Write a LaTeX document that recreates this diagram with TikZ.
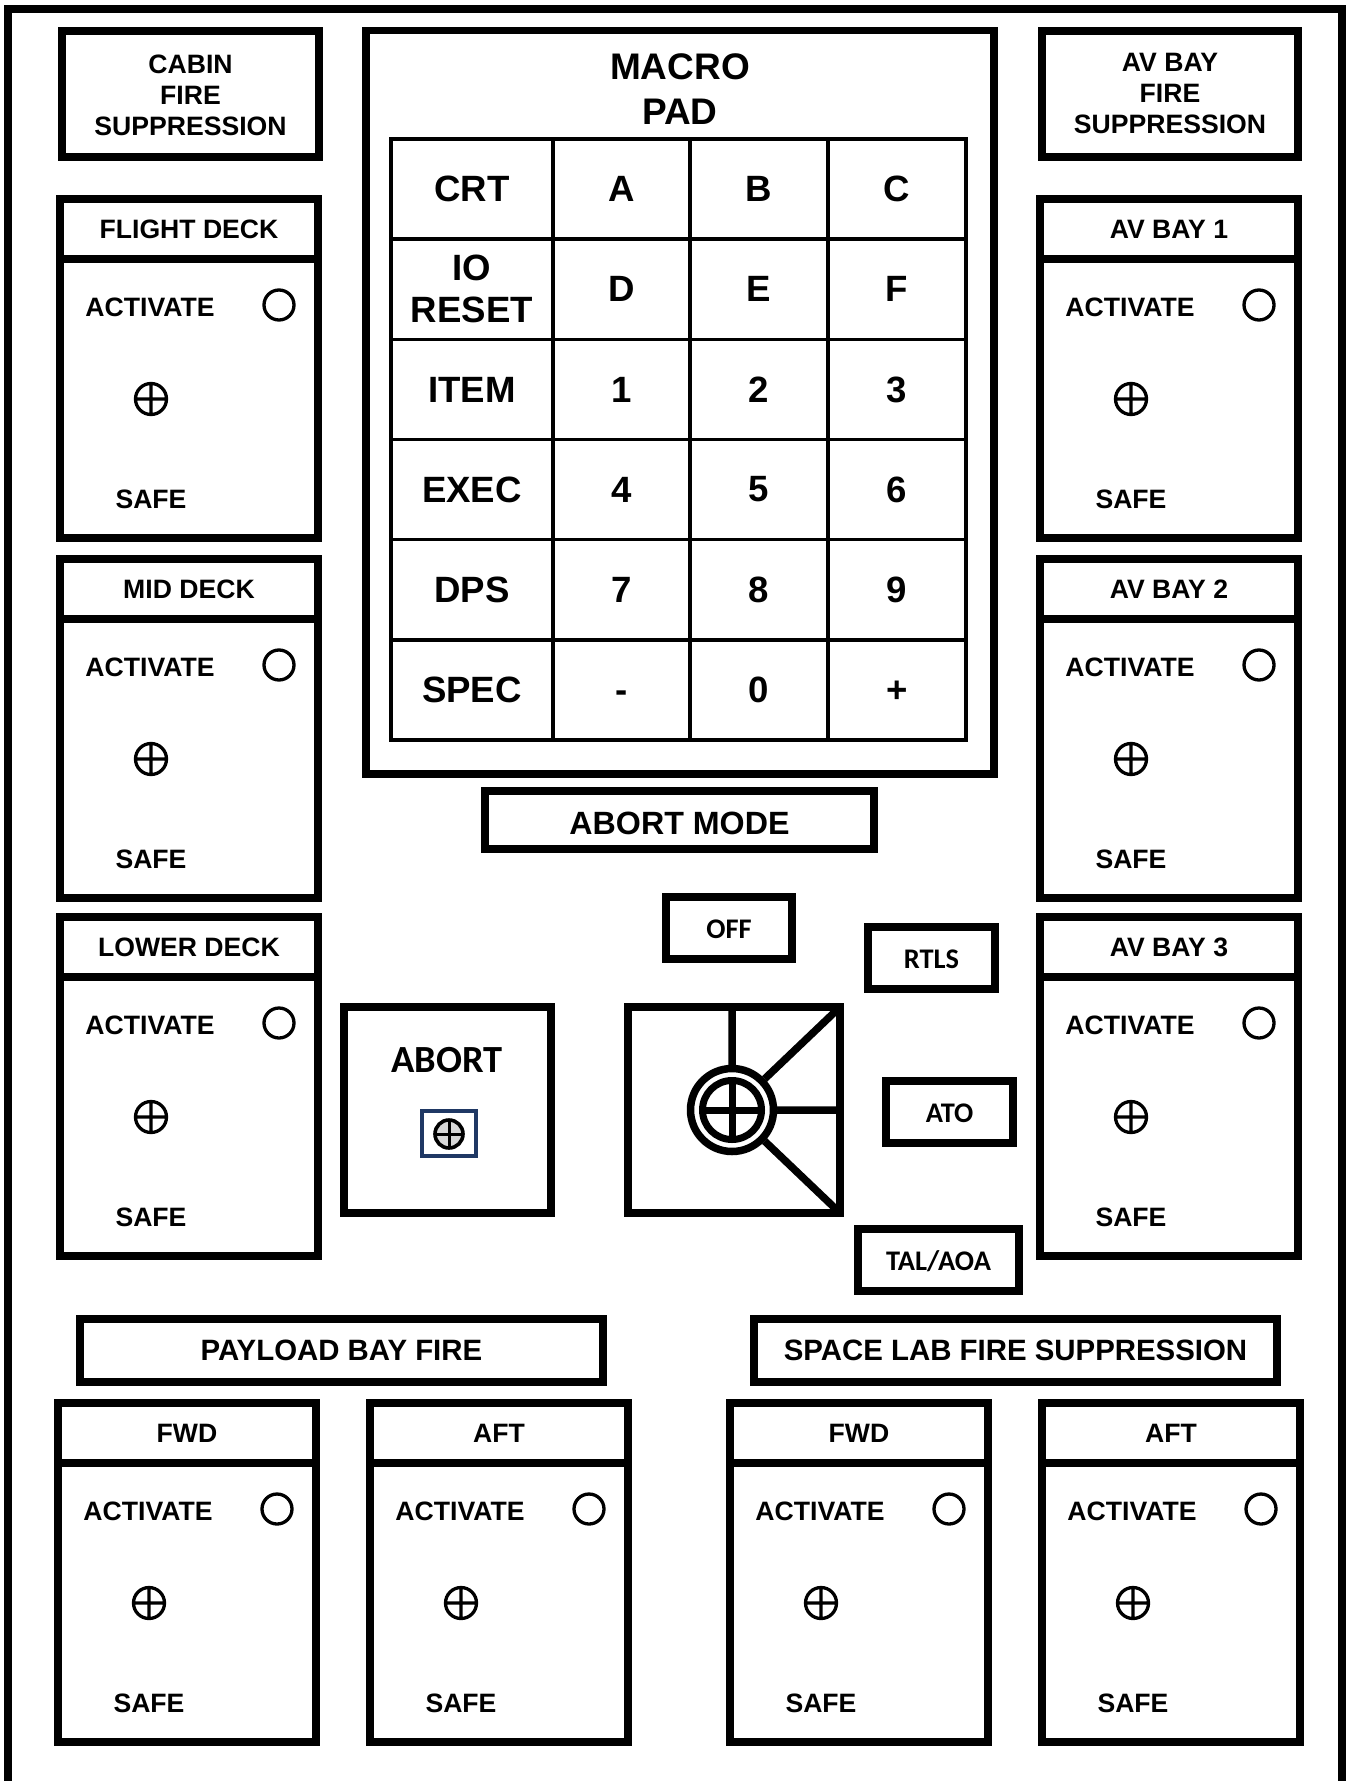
\documentclass[tikz,border=0pt]{standalone}
\usepackage{fontspec}
\setmainfont{Liberation Sans}
\newfontfamily\calfont{Carlito}
\usepackage{xcolor}
\usetikzlibrary{positioning}
\definecolor{navyline}{RGB}{31,56,100}
\definecolor{lampgray}{RGB}{215,215,215}

\tikzset{
  box/.style={line width=3.75pt},
  gridline/.style={line width=1.75pt},
  lamp/.style={line width=1.65pt},
  lbl/.style={inner sep=0pt, font=\bfseries\fontsize{13.3}{15.5}\selectfont},
  ttl/.style={inner sep=0pt, align=center, font=\bfseries\fontsize{13.3}{15.5}\selectfont},
  keylbl/.style={inner sep=0pt, align=center, font=\bfseries\fontsize{18.3}{21}\selectfont},
  modelbl/.style={inner sep=0pt, font=\calfont\bfseries\fontsize{14.2}{16}\selectfont},
}

\begin{document}
\begin{tikzpicture}[x=0.5pt, y=-0.5pt]
  \useasboundingbox (0,0) rectangle (1355,1781);
  % Outer frame (open at the bottom)
  \draw[line width=4pt] (8,1781) -- (8,9) -- (1342,9) -- (1342,1781);

  % Title boxes
  \draw[box] (62,31) rectangle (319,157);
  \node[ttl] (cabin) at (190.5,95) {CABIN\\FIRE\\SUPPRESSION};
  \draw[box] (1042,31) rectangle (1298,157);
  \node[ttl] (avbayfire) at (1170,93) {AV BAY\\FIRE\\SUPPRESSION};

  % Switch panels: left x / top y / title / name
  \foreach \px/\py/\lab/\nm in {60/199/FLIGHT DECK/fd, 60/559/MID DECK/md, 60/917/LOWER DECK/ld,
      1040/199/AV BAY 1/av1, 1040/559/AV BAY 2/av2, 1040/917/AV BAY 3/av3,
      58/1403/FWD/pbf, 370/1403/AFT/pba, 730/1403/FWD/slf, 1042/1403/AFT/sla}{
    \draw[box] (\px,\py) rectangle (\px+258,\py+339);
    \draw[box] (\px,\py+60) -- (\px+258,\py+60);
    \node[lbl] (\nm-hdr) at (\px+129,\py+30) {\lab};
    \node[lbl] (\nm-act) at (\px+90,\py+108) {ACTIVATE};
    \draw[lamp] (\px+219,\py+106) circle (15);
    \draw[lamp] (\px+91,\py+200) circle (15.5)
      (\px+75.5,\py+200) -- (\px+106.5,\py+200)
      (\px+91,\py+184.5) -- (\px+91,\py+215.5);
    \node[lbl] (\nm-safe) at (\px+91,\py+300) {SAFE};
  }

  % Macro pad
  \draw[box] (366,30.5) rectangle (994,774);
  \node[keylbl, font=\bfseries\fontsize{18.5}{22.5}\selectfont] (macro) at (680,89.5) {MACRO\\PAD};
  \draw[gridline] (391,139) rectangle (966,740);
  \foreach \cx in {553,690,828}{
    \draw[gridline] (\cx,139) -- (\cx,740);
  }
  \foreach \k in {1,...,5}{
    \draw[gridline] (391,139+100.17*\k) -- (966,139+100.17*\k);
  }
  \foreach \ry/\a/\b/\c/\d/\n in {189/CRT/A/B/C/1, 289/IO\\RESET/D/E/F/2,
      389.5/ITEM/1/2/3/3, 489.5/EXEC/4/5/6/4, 590/DPS/7/8/9/5,
      690/SPEC/\vphantom{0}-/0/\vphantom{0}+/6}{
    \node[keylbl] (k\n a) at (472,\ry) {\a};
    \node[keylbl] (k\n b) at (621.5,\ry) {\b};
    \node[keylbl] (k\n c) at (759,\ry) {\c};
    \node[keylbl] (k\n d) at (897,\ry) {\d};
  }

  % Abort mode
  \draw[box] (485,791) rectangle (874,849);
  \node[lbl, font=\bfseries\fontsize{16.1}{18}\selectfont] (abortmode) at (679.5,823) {ABORT MODE};

  \draw[box] (666,897) rectangle (792,959);
  \node[modelbl] (off) at (729,929) {OFF};
  \draw[box] (868,927) rectangle (995,989);
  \node[modelbl] (rtls) at (931.5,959) {RTLS};
  \draw[box] (886,1081) rectangle (1013,1143);
  \node[modelbl] (ato) at (949.5,1113) {ATO};
  \draw[box] (858,1229) rectangle (1019,1291);
  \node[modelbl] (tal) at (938.5,1261) {TAL/AOA};

  % Mode selector
  \draw[box] (628,1007) rectangle (840,1213);
  \coordinate (sel) at (732,1110);
  \draw[box] (sel) -- (732,1007) (sel) -- (840,1007) (sel) -- (840,1110) (sel) -- (840,1213);
  \fill[white] (sel) circle (45);
  \draw[box] (sel) circle (41.5);
  \draw[line width=3.5pt] (sel) circle (29.5);
  \draw[line width=3.5pt] (702.5,1110) -- (761.5,1110) (732,1080.5) -- (732,1139.5);

  % Abort push button
  \draw[box] (344,1007) rectangle (551,1213);
  \node[modelbl, font=\calfont\bfseries\fontsize{19.2}{21}\selectfont] (abort) at (447,1060) {ABORT};
  \draw[navyline, line width=2pt] (422,1111) rectangle (476,1156);
  \draw[line width=1.8pt, fill=lampgray] (449,1134) circle (14);
  \draw[line width=1.5pt] (435,1134) -- (463,1134) (449,1120) -- (449,1148);

  % Lower title bars
  \draw[box] (80,1319) rectangle (603,1382);
  \node[lbl, font=\bfseries\fontsize{14.7}{17}\selectfont] (payload) at (341.5,1350.5) {PAYLOAD BAY FIRE};
  \draw[box] (754,1319) rectangle (1277,1382);
  \node[lbl, font=\bfseries\fontsize{14.7}{17}\selectfont] (spacelab) at (1015.5,1350.5) {SPACE LAB FIRE SUPPRESSION};
\end{tikzpicture}
\end{document}
